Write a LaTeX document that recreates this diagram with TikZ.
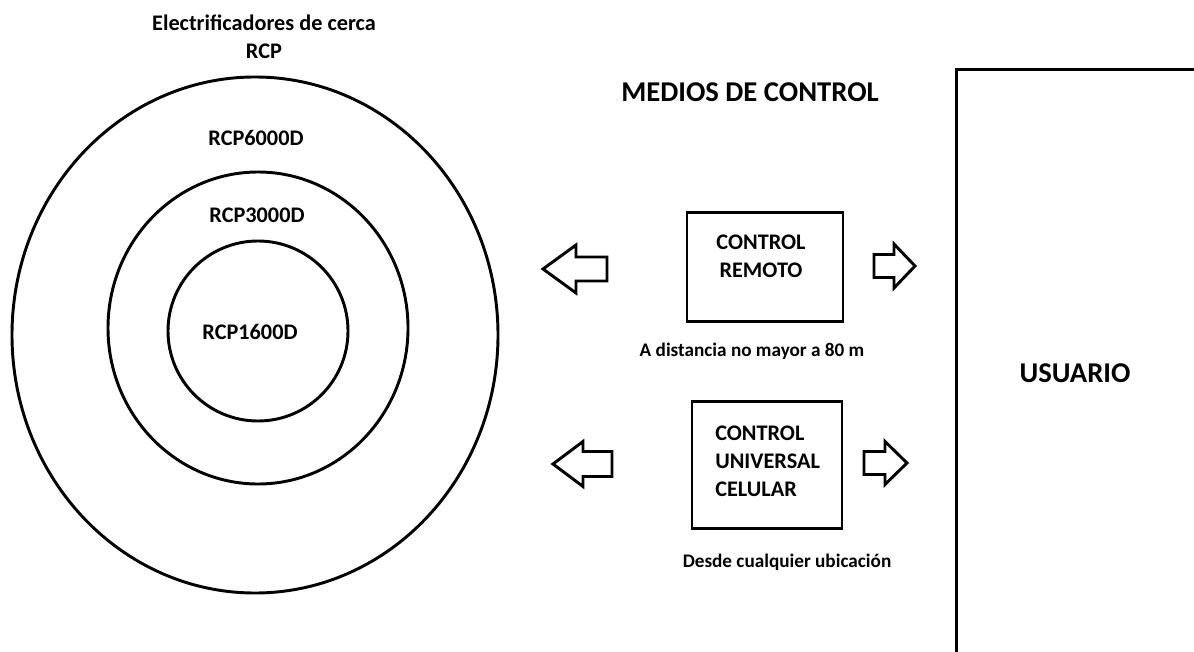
\documentclass[tikz,border=0pt]{standalone}
\usepackage{fontspec}
\setmainfont{Carlito}
\usepackage{tikz}
\usetikzlibrary{positioning,calc,shapes.geometric}

\tikzset{
  linea/.style={line width=2.2pt},
  anillo/.style={ellipse, draw, linea, inner sep=0},
  caja/.style={rectangle, draw, linea, inner sep=0},
  etiq/.style={font=\bfseries\fontsize{16.7}{21}\selectfont, align=center, inner sep=0},
  grande/.style={font=\bfseries\fontsize{21.5}{25}\selectfont, inner sep=0},
  nota/.style={font=\bfseries\fontsize{14.4}{17}\selectfont, inner sep=0},
  pics/flecha/.style n args={4}{code={
    \draw[linea, line join=miter] (0,0) -- (#2,-#4) -- (#2,-#3) -- (#1,-#3)
      -- (#1,#3) -- (#2,#3) -- (#2,#4) -- cycle;
  }}
}

\begin{document}
\begin{tikzpicture}[x=0.75pt, y=-0.75pt]
  \useasboundingbox (0,0) rectangle (1194,652);
  \clip (0,0) rectangle (1194,652);

  % electrificadores
  \node[etiq] (titulo) at (264,37) {Electrificadores de cerca\\RCP};
  \node[anillo, minimum width=364.5pt, minimum height=387pt] (r6000) at (255,335) {};
  \node[anillo, minimum width=225pt, minimum height=234pt] (r3000) at (258,328) {};
  \node[anillo, minimum width=135pt, minimum height=135pt] (r1600) at (258,331) {};
  \node[etiq] (t6000) at (256,138) {RCP6000D};
  \node[etiq] (t3000) at (257,215) {RCP3000D};
  \node[etiq] (t1600) at (250,332) {RCP1600D};

  % medios de control
  \node[grande] (medios) at (750,92) {MEDIOS DE CONTROL};
  \node[caja, minimum width=117pt, minimum height=81.75pt] (remoto) at (765,267) {};
  \node[etiq] (tremoto) at (761,256) {CONTROL\\REMOTO};
  \node[nota] (dist) at (752,351) {A distancia no mayor a 80 m};
  \node[caja, minimum width=112.5pt, minimum height=95.25pt] (celular) at (767,465) {};
  \node[etiq, align=left, anchor=west] (tcelular) at (715,461) {CONTROL\\UNIVERSAL\\CELULAR};
  \node[nota] (ubic) at (787,562) {Desde cualquier ubicación};

  \pic at (543,269) {flecha={64}{33}{12}{24}};
  \pic[xscale=-1] at (915,266) {flecha={41}{21}{11.5}{22}};
  \pic at (553,464) {flecha={59}{30}{12.5}{22.5}};
  \pic[xscale=-1] at (907,463) {flecha={43}{22}{11.5}{21.5}};

  % usuario
  \node[caja, anchor=north west, minimum width=225pt, minimum height=487.5pt] (usuario) at (955,68) {};
  \node[grande] (tusuario) at (1075,373) {USUARIO};
\end{tikzpicture}
\end{document}
